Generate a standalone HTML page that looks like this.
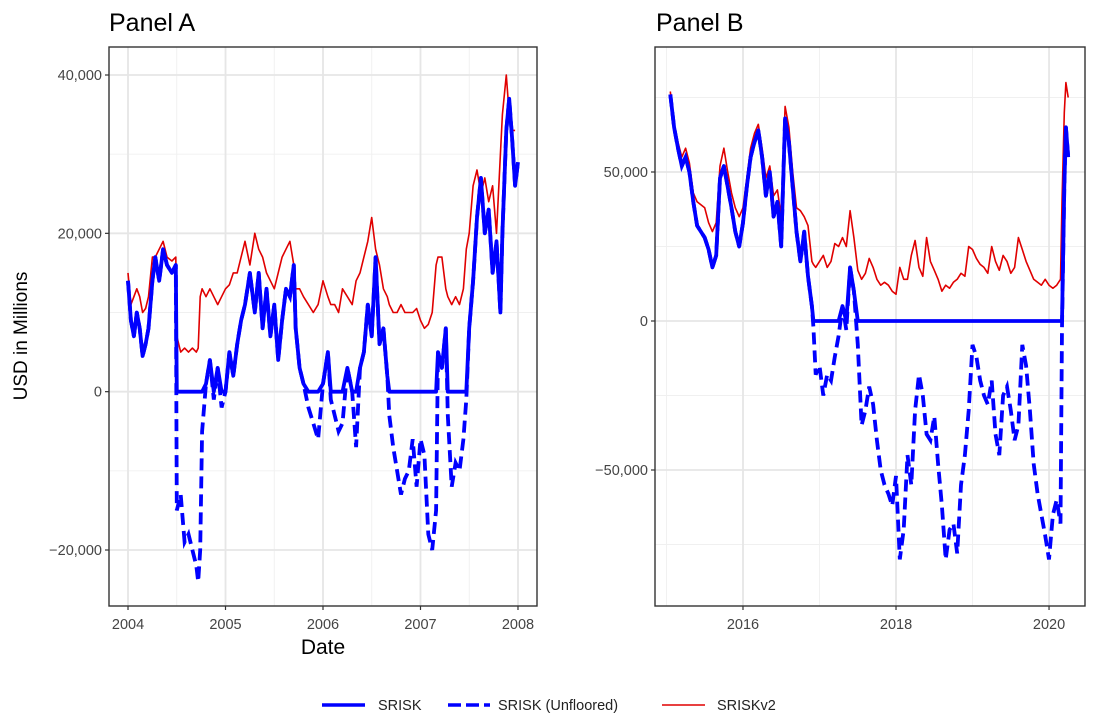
<!DOCTYPE html>
<html><head><meta charset="utf-8"><style>
html,body{margin:0;padding:0;background:#fff;overflow:hidden;width:1100px;height:718px;}
svg{display:block;font-family:"Liberation Sans",sans-serif;}
</style></head><body>
<svg id="chart" width="1100" height="718" viewBox="0 0 1100 718">
<text x="109" y="31" font-size="25" fill="#000">Panel A</text>
<text x="656" y="31" font-size="25" fill="#000">Panel B</text>
<text transform="translate(27,336) rotate(-90)" text-anchor="middle" font-size="19" fill="#000">USD in Millions</text>
<text x="323" y="654" text-anchor="middle" font-size="21" fill="#000">Date</text>
<g id="pa"></g>
<g id="pb"></g>
<g>
<g><line x1="322" y1="705" x2="365" y2="705" stroke="#0000ff" stroke-width="3.5"/><text x="378" y="710" font-size="14.5" fill="#222">SRISK</text></g>
<g><line x1="448" y1="705" x2="490" y2="705" stroke="#0000ff" stroke-width="3.5" stroke-dasharray="13,5"/><text x="498" y="710" font-size="14.5" fill="#222">SRISK (Unfloored)</text></g>
<g><line x1="662" y1="705" x2="705" y2="705" stroke="#e00000" stroke-width="1.5"/><text x="717" y="710" font-size="14.5" fill="#222">SRISKv2</text></g>
</g>
</svg>
<script>
const aDates=[2004.00,2004.03,2004.06,2004.09,2004.12,2004.15,2004.18,2004.21,2004.25,2004.28,2004.32,2004.36,2004.40,2004.45,2004.49,2004.50,2004.54,2004.58,2004.62,2004.66,2004.70,2004.72,2004.74,2004.76,2004.80,2004.84,2004.88,2004.92,2004.96,2005.00,2005.04,2005.08,2005.12,2005.16,2005.20,2005.25,2005.30,2005.34,2005.38,2005.42,2005.46,2005.50,2005.54,2005.58,2005.62,2005.66,2005.70,2005.72,2005.76,2005.80,2005.85,2005.90,2005.95,2006.00,2006.05,2006.08,2006.12,2006.16,2006.20,2006.25,2006.30,2006.34,2006.38,2006.42,2006.46,2006.50,2006.54,2006.58,2006.62,2006.66,2006.68,2006.72,2006.76,2006.80,2006.84,2006.88,2006.92,2006.96,2007.00,2007.04,2007.08,2007.12,2007.16,2007.18,2007.22,2007.26,2007.28,2007.32,2007.36,2007.40,2007.44,2007.47,2007.50,2007.54,2007.58,2007.62,2007.66,2007.70,2007.74,2007.78,2007.82,2007.84,2007.88,2007.91,2007.94,2007.97,2008.00];
const aUnfloored=[14,9,7,10,8,4.5,6,8,14,17,14,18,16,15,16,-15,-13,-19,-18,-20,-22,-24,-20,-5,1,4,-1,3,-2,0,5,2,6,9,11,15,10,15,8,13,7,11,4,9,13,12,16,8,3,1,-2,-4,-6,1,5,-1,-3,-5,-4,3,0,-7,3,5,11,7,17,6,8,2,-3,-7,-10,-13,-11,-10,-6,-12,-6,-8,-18,-20,-15,5,3,8,-3,-12,-9,-10,-6,-1,8,14,22,27,20,23,15,19,10,20,33,37,32,26,29];
const aV2=[15,11,12,13,12,10,10.5,12,17,17,18,19,17,16.5,17,7,5,5.5,5,5.5,5,5.5,12,13,12,13,12,11,12,13,13.5,15,15,17,19,16,20,18,17,15,14,13,15,17,18,19,16,13,13,12,11,10,11,14,12,11,11,10,13,12,11,14,15,17,19,22,18,16,13,12,11,10,10,11,10,10,10,10.5,9,8,8.5,10,16,17,17,13,12,11,12,11,13,18,20,26,28,25,27,24,26,20,30,35,40,35,33,33];
const bDates=[2015.05,2015.10,2015.15,2015.20,2015.25,2015.30,2015.35,2015.40,2015.45,2015.50,2015.55,2015.60,2015.65,2015.70,2015.75,2015.80,2015.85,2015.90,2015.95,2016.00,2016.05,2016.10,2016.15,2016.20,2016.25,2016.30,2016.35,2016.40,2016.45,2016.50,2016.55,2016.60,2016.65,2016.70,2016.75,2016.80,2016.85,2016.90,2016.92,2016.95,2017.00,2017.05,2017.10,2017.15,2017.20,2017.25,2017.30,2017.35,2017.40,2017.45,2017.50,2017.55,2017.60,2017.65,2017.70,2017.75,2017.80,2017.85,2017.90,2017.95,2018.00,2018.05,2018.10,2018.15,2018.20,2018.25,2018.30,2018.35,2018.40,2018.45,2018.50,2018.55,2018.60,2018.65,2018.70,2018.75,2018.80,2018.85,2018.90,2018.95,2019.00,2019.05,2019.10,2019.15,2019.20,2019.25,2019.30,2019.35,2019.40,2019.45,2019.50,2019.55,2019.60,2019.65,2019.70,2019.75,2019.80,2019.85,2019.90,2019.95,2020.00,2020.05,2020.10,2020.15,2020.17,2020.20,2020.22,2020.25];
const bUnfloored=[76,65,58,52,55,50,40,32,30,28,24,18,22,48,52,45,38,30,25,33,45,55,60,64,55,42,50,35,40,25,68,60,45,30,20,30,15,5,-2,-18,-15,-25,-18,-20,-12,-5,5,-3,18,10,-8,-35,-30,-22,-28,-40,-50,-55,-58,-62,-52,-80,-70,-45,-55,-30,-18,-25,-38,-40,-32,-48,-62,-80,-70,-68,-78,-55,-45,-30,-8,-12,-20,-25,-28,-20,-38,-45,-25,-22,-30,-40,-35,-8,-15,-30,-48,-58,-65,-72,-80,-65,-60,-68,-2,45,65,55];
const bV2=[77,66,60,55,58,53,43,40,39,38,33,30,33,52,58,50,43,38,35,38,48,58,63,66,58,48,52,42,44,35,72,65,50,38,37,35,32,20,19,18,20,22,18,20,26,25,28,25,37,28,17,14,16,21,18,14,12,13,12,10,9,18,14,14,22,27,18,15,28,20,17,14,10,12,11,13,14,16,15,25,24,21,19,18,16,25,20,17,22,20,16,18,28,24,20,17,14,13,12,14,12,11,12,14,40,70,80,75];
const aYTicks=[-20000,0,20000,40000];
const aYMinor=[-10000,10000,30000];
const aXTicks=[2004,2005,2006,2007,2008];
const aXMinor=[2004.5,2005.5,2006.5,2007.5];
const bYTicks=[-50000,0,50000];
const bYMinor=[-75000,-25000,25000,75000];
const bXTicks=[2016,2018,2020];
const bXMinor=[2015,2017,2019];

const NS='http://www.w3.org/2000/svg';
function mk(parent,tag,attrs){const e=document.createElementNS(NS,tag);for(const k in attrs)e.setAttribute(k,attrs[k]);parent.appendChild(e);return e;}
function fmt(v){if(v===0)return '0';const s=Math.abs(v).toLocaleString('en-US');return (v<0?'\u2212':'')+s;}

function panel(g,box,xd,yd,dates,unf,v2,yt,ym,xt,xm,prefix){
  const sx=d=>box.l+(d-xd[0])/(xd[1]-xd[0])*(box.r-box.l);
  const sy=v=>box.b-(v-yd[0])/(yd[1]-yd[0])*(box.b-box.t);
  ym.forEach(v=>{const y=sy(v);if(y>box.t&&y<box.b){const l=mk(g,'line',{x1:box.l,x2:box.r,y1:y,y2:y,stroke:'#f0f0f0','stroke-width':0.9});
    
    }});
  xm.forEach(v=>{const x=sx(v);if(x>box.l&&x<box.r){const l=mk(g,'line',{x1:x,x2:x,y1:box.t,y2:box.b,stroke:'#f0f0f0','stroke-width':0.9});
    
    }});
  yt.forEach(v=>{const y=sy(v);const l=mk(g,'line',{x1:box.l,x2:box.r,y1:y,y2:y,stroke:'#e6e6e6','stroke-width':1.8});
    
    
    mk(g,'line',{x1:box.l-4,x2:box.l,y1:y,y2:y,stroke:'#333','stroke-width':1.2});
    const t=mk(g,'text',{x:box.l-7,y:y+5,'text-anchor':'end','font-size':14.5,fill:'#444'});t.textContent=fmt(v);
    
    });
  xt.forEach(v=>{const x=sx(v);const l=mk(g,'line',{x1:x,x2:x,y1:box.t,y2:box.b,stroke:'#e6e6e6','stroke-width':1.8});
    
    
    mk(g,'line',{x1:x,x2:x,y1:box.b,y2:box.b+4,stroke:'#333','stroke-width':1.2});
    const t=mk(g,'text',{x:x,y:box.b+23,'text-anchor':'middle','font-size':14.5,fill:'#444'});t.textContent=String(v);
    
    });
  const ptsU=dates.map((d,i)=>sx(d).toFixed(1)+','+sy(unf[i]*1000).toFixed(1)).join(' ');
  const ptsF=dates.map((d,i)=>sx(d).toFixed(1)+','+sy(Math.max(0,unf[i])*1000).toFixed(1)).join(' ');
  const ptsV=dates.map((d,i)=>sx(d).toFixed(1)+','+sy(v2[i]*1000).toFixed(1)).join(' ');
  const pv=mk(g,'polyline',{points:ptsV,fill:'none',stroke:'#e00000','stroke-width':1.6,'stroke-linejoin':'round'});
  
  
  const pu=mk(g,'polyline',{points:ptsU,fill:'none',stroke:'#0000ff','stroke-width':3.8,'stroke-dasharray':'12,6'});
  
  
  const pf=mk(g,'polyline',{points:ptsF,fill:'none',stroke:'#0000ff','stroke-width':3.8,'stroke-linejoin':'round'});
  
  
  const fr=mk(g,'rect',{x:box.l,y:box.t,width:box.r-box.l,height:box.b-box.t,fill:'none',stroke:'#333','stroke-width':1.4});
  
  
}
panel(document.getElementById('pa'),{l:109,r:537,t:47,b:606},[2003.805,2008.195],[-27073,43537],aDates,aUnfloored,aV2,aYTicks,aYMinor,aXTicks,aXMinor,'panel-a');
panel(document.getElementById('pb'),{l:655,r:1085,t:47,b:606},[2014.85,2020.47],[-95638,91946],bDates,bUnfloored,bV2,bYTicks,bYMinor,bXTicks,bXMinor,'panel-b');
</script>
</body></html>
